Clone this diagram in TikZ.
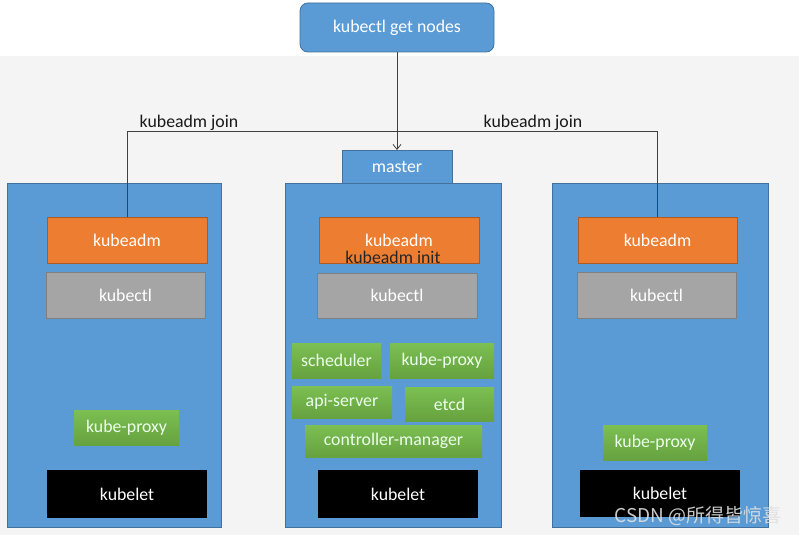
\documentclass[tikz,border=0pt]{standalone}
\usepackage{fontspec}
\setmainfont{Carlito}
\newfontfamily\cjk{Noto Sans CJK SC}
\usetikzlibrary{arrows.meta}
\definecolor{kblue}{HTML}{5B9BD5}
\definecolor{kblueline}{HTML}{41719C}
\definecolor{korange}{HTML}{ED7D31}
\definecolor{korangeline}{HTML}{AE5A21}
\definecolor{kgrey}{HTML}{A5A5A5}
\definecolor{kgreyline}{HTML}{7F7F7F}
\definecolor{kgreentop}{HTML}{7CBF52}
\definecolor{kgreenbot}{HTML}{66A23F}
\definecolor{kbg}{HTML}{F4F4F4}
\definecolor{kline}{HTML}{404040}
\newcommand\rbox[7]{\node[#1, minimum width={(#5)-(#3)}, minimum height={(#6)-(#4)}] (#2) at ({((#3)+(#5))/2},{((#4)+(#6))/2}) {#7};}
\tikzset{
  base/.style={inner sep=0pt, outer sep=0pt, font=\fontsize{17.8}{20}\selectfont, text=white, line width=0.8pt},
  bluebox/.style={base, fill=kblue, draw=kblueline},
  topbox/.style={base, fill=kblue, draw=kblueline, rounded corners=8pt},
  orangebox/.style={base, fill=korange, draw=korangeline},
  greybox/.style={base, fill=kgrey, draw=kgreyline},
  greenbox/.style={base, top color=kgreentop, bottom color=kgreenbot, draw=none, text=white!92!green},
  blackbox/.style={base, fill=black, draw=none},
  conn/.style={draw=kline, line width=0.8pt},
  lbl/.style={inner sep=0pt, font=\fontsize{17.8}{20}\selectfont, text=black!90},
}
\begin{document}
\begin{tikzpicture}[x=1pt,y=-1pt]
\useasboundingbox (0,0) rectangle (799,535);
\fill[white] (0,0) rectangle (799,535);
\fill[kbg] (0,56) rectangle (799,535);
% top command
\rbox{topbox}{getnodes}{300}{3}{494}{52}{kubectl get nodes}
% big boxes
\rbox{bluebox}{left}{7}{183}{221}{527}{}
\rbox{bluebox}{center}{285}{183}{501}{527}{}
\rbox{bluebox}{right}{552}{183}{768}{527}{}
\rbox{bluebox}{master}{342}{150}{452}{183}{master}
% left node
\rbox{orangebox}{lkadm}{47}{217}{207}{263}{kubeadm}
\rbox{greybox}{lkctl}{46}{272}{205}{318}{kubectl}
\rbox{greenbox}{lproxy}{74}{410}{179}{445}{kube-proxy}
\rbox{blackbox}{lkubelet}{47}{470}{207}{518}{kubelet}
% center node
\rbox{orangebox}{ckadm}{319}{217}{479}{263}{}
\node[lbl, text=white] (ckadmtxt) at (399,240) {kubeadm};
\node[lbl, text=black!85] (cinit) at (393,257) {kubeadm init};
\rbox{greybox}{cctl}{317}{273}{477}{318}{kubectl}
\rbox{greenbox}{sched}{292}{343}{381}{378}{scheduler}
\rbox{greenbox}{cproxy}{390}{343}{494}{378}{kube-proxy}
\rbox{greenbox}{api}{292}{386}{392}{418}{api-server}
\rbox{greenbox}{etcd}{405}{387}{494}{421}{etcd}
\rbox{greenbox}{cm}{305}{425}{482}{457}{controller-manager}
\rbox{blackbox}{ckubelet}{318}{470}{478}{518}{kubelet}
% right node
\rbox{orangebox}{rkadm}{578}{217}{737}{263}{kubeadm}
\rbox{greybox}{rkctl}{577}{272}{736}{318}{kubectl}
\rbox{greenbox}{rproxy}{603}{425}{707}{460}{kube-proxy}
\rbox{blackbox}{rkubelet}{580}{470}{740}{517}{kubelet}
% connectors
\coordinate (joinl) at (127,131);
\coordinate (joinr) at (657,131);
\draw[conn] (lkadm.north -| joinl) -- (joinl) -- (joinr) -- (rkadm.north -| joinr);
\draw[conn, -{Straight Barb[length=5pt,width=8pt]}] (getnodes.south -| master.north) -- (master.north);
\node[lbl] (jl) at (189,123) {kubeadm join};
\node[lbl] (jr) at (533,123) {kubeadm join};
% watermark
\node[inner sep=0pt, text=white!75!gray, opacity=0.9, font=\cjk\fontsize{19}{22}\selectfont] (wm) at (698,516) {CSDN @所得皆惊喜};
\end{tikzpicture}
\end{document}
